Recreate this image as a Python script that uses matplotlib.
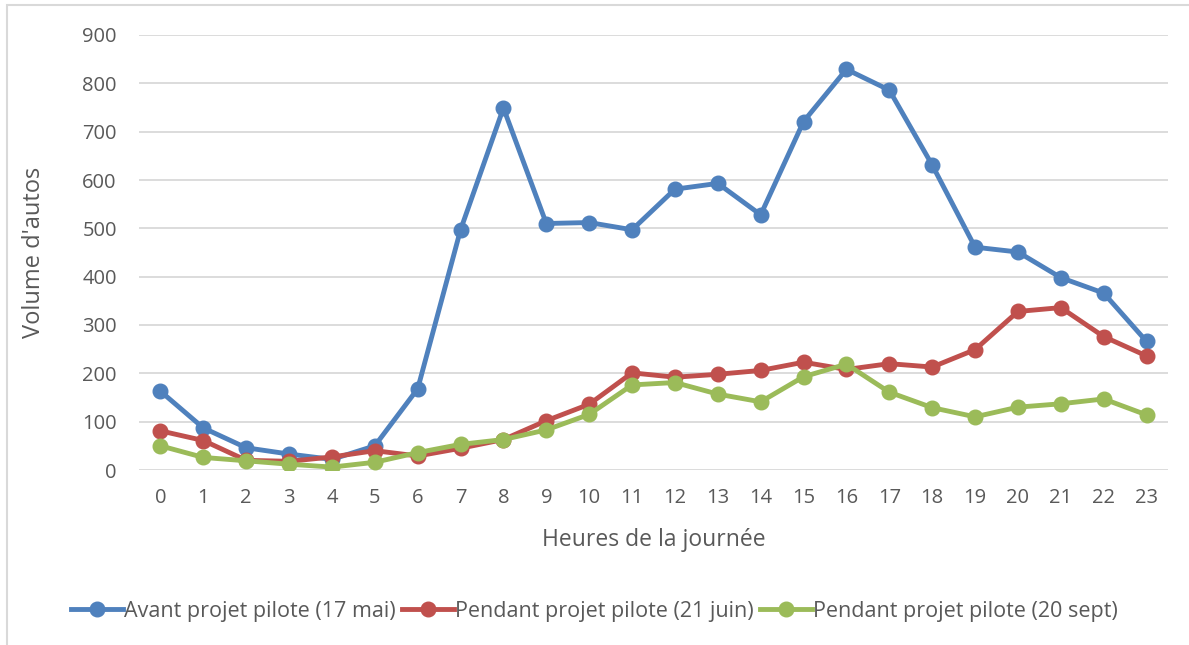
import matplotlib
matplotlib.use("Agg")
import matplotlib.pyplot as plt
from matplotlib.patches import Rectangle

hours = list(range(24))
avant_17_mai = [163, 87, 46, 33, 22, 50, 168, 497, 749, 510, 512, 497,
                581, 593, 528, 721, 829, 786, 631, 461, 451, 398, 366, 266]
pendant_21_juin = [81, 61, 20, 18, 27, 40, 29, 45, 63, 102, 136, 201,
                   192, 198, 206, 223, 208, 220, 213, 249, 328, 336, 276, 236]
pendant_20_sept = [50, 26, 19, 12, 6, 16, 36, 53, 63, 83, 115, 176,
                   181, 157, 141, 193, 219, 161, 129, 110, 130, 137, 147, 114]

series = [
    ("Avant projet pilote (17 mai)", avant_17_mai, "#4F81BD"),
    ("Pendant projet pilote (21 juin)", pendant_21_juin, "#C0504D"),
    ("Pendant projet pilote (20 sept)", pendant_20_sept, "#9BBB59"),
]

plt.rcParams["font.family"] = ["Open Sans", "DejaVu Sans"]
text_col = "#595959"

fig = plt.figure(figsize=(11.89, 6.45), dpi=100)
ax = fig.add_axes([139 / 1189, 1 - 470 / 645, (1168 - 139) / 1189, (470 - 35) / 645])

for label, vals, col in series:
    ax.plot(hours, vals, color=col, lw=3.5, marker="o", ms=10.5,
            solid_joinstyle="round", label=label, zorder=3)

ax.set_xlim(-0.5, 23.5)
ax.set_ylim(0, 900)
ax.set_yticks(range(0, 901, 100))
ax.set_xticks(hours)
ax.grid(axis="y", color="#D9D9D9", lw=1.3, zorder=0)
for s in ax.spines.values():
    s.set_visible(False)
ax.tick_params(length=0, labelsize=14.5, colors=text_col, pad=13)
ax.tick_params(axis="y", pad=16)
ax.set_xlabel("Heures de la journée", fontsize=16.5, color=text_col, labelpad=14)
ax.set_ylabel("Volume d'autos", fontsize=17, color=text_col, labelpad=26)

ax.legend(loc="center", bbox_to_anchor=(0.5, 1 - 611 / 645),
          bbox_transform=fig.transFigure, ncol=3, frameon=False,
          fontsize=15.5, labelcolor=text_col, handlelength=2.4,
          handletextpad=0.05, columnspacing=0.3)

fig.patches.append(Rectangle((7 / 1189, -0.1), 1.2, 1 - 5 / 645 + 0.1,
                             transform=fig.transFigure, fill=False,
                             edgecolor="#D9D9D9", lw=1.5))

fig.savefig("out.png", dpi=100)
